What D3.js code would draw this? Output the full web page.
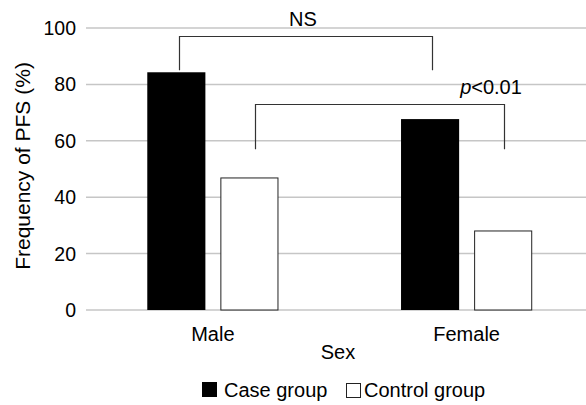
<!DOCTYPE html>
<html><head><meta charset="utf-8">
<script src="https://cdn.jsdelivr.net/npm/d3@7"></script>
<style>body{margin:0;background:#fff}svg{display:block;font-family:"Liberation Sans",Arial,sans-serif}</style>
</head><body>
<svg id="c" width="586" height="405"></svg>
<script>
const categories = ["Male", "Female"];
const groups = ["Case group", "Control group"];
const caseValues = [84.3, 67.7];
const controlValues = [47.0, 28.2];
const yTicks = [0, 20, 40, 60, 80, 100];
const brackets = [
  {label: "NS", from: [0, 0], to: [1, 0], top: 97, drop: [85, 85]},
  {label: "p<0.01", from: [0, 1], to: [1, 1], top: 73, drop: [57, 57]}
];

(function () {
const svg = d3.select("#c");
const pl = 86, pr = 593.5, pt0 = 28, pb = 310;
const y = d3.scaleLinear().domain([0, 100]).range([pb, pt0]);
const x0 = d3.scaleBand().domain(categories).range([pl, pr]).paddingInner(0.483).paddingOuter(0.2415);
const x1 = d3.scaleBand().domain(groups).range([0, x0.bandwidth()]).paddingInner(0.205);
const fs = 20;

svg.append("g").selectAll("line").data(yTicks).join("line")
  .attr("x1", pl).attr("x2", 586).attr("y1", d => y(d)).attr("y2", d => y(d))
  .attr("stroke", "#c6c6c6").attr("stroke-width", 1.5);

svg.append("g").selectAll("text").data(yTicks).join("text")
  .attr("x", 76).attr("y", d => y(d)).attr("dy", "0.36em").attr("text-anchor", "end")
  .attr("font-size", 19.5).attr("fill", "#000").text(d => d);

const rows = categories.map((c, i) => ({c, vals: [caseValues[i], controlValues[i]]}));
const g = svg.append("g").selectAll("g").data(rows).join("g")
  .attr("transform", d => `translate(${x0(d.c)},0)`);
g.selectAll("rect").data(d => d.vals.map((v, j) => ({g: groups[j], v}))).join("rect")
  .attr("x", d => x1(d.g) + (d.g === groups[1] ? 0.5 : 0))
  .attr("width", d => x1.bandwidth() - (d.g === groups[1] ? 1 : 0))
  .attr("y", d => y(d.v) + (d.g === groups[1] ? 0.5 : 0))
  .attr("height", d => y(0) - y(d.v) - (d.g === groups[1] ? 0.5 : 0))
  .attr("fill", d => d.g === groups[0] ? "#000" : "#fff")
  .attr("stroke", d => d.g === groups[0] ? "none" : "#222")
  .attr("stroke-width", 1);

svg.append("g").selectAll("text").data(categories).join("text")
  .attr("x", d => x0(d) + x0.bandwidth() / 2).attr("y", 341)
  .attr("text-anchor", "middle").attr("font-size", fs).text(d => d);

svg.append("text").attr("x", 338).attr("y", 359).attr("text-anchor", "middle")
  .attr("font-size", fs).text("Sex");
svg.append("text").attr("transform", `translate(30,${(pt0 + pb) / 2 - 3}) rotate(-90)`)
  .attr("text-anchor", "middle").attr("font-size", 21).text("Frequency of PFS (%)");

const bx = (ci, gi) => x0(categories[ci]) + x1(groups[gi]) + x1.bandwidth() / 2;
const offs = [[3, 2], [6, 0.5]];
brackets.forEach((b, i) => {
  const xa = Math.round(bx(b.from[0], b.from[1]) + offs[i][0]) + 0.5;
  const xb = Math.round(bx(b.to[0], b.to[1]) + offs[i][1]) + 0.5;
  const yt = Math.round(y(b.top)) + 0.5;
  svg.append("path").attr("d", d3.line()([[xa, y(b.drop[0])], [xa, yt], [xb, yt], [xb, y(b.drop[1])]]))
    .attr("fill", "none").attr("stroke", "#333").attr("stroke-width", 1.2);
});
svg.append("text").attr("x", 303).attr("y", 26).attr("text-anchor", "middle").attr("font-size", fs).text(brackets[0].label);
const pt = svg.append("text").attr("x", 491).attr("y", 94).attr("text-anchor", "middle").attr("font-size", fs);
pt.append("tspan").attr("font-style", "italic").text(brackets[1].label.slice(0, 1));
pt.append("tspan").text(brackets[1].label.slice(1));

const leg = svg.append("g");
leg.append("rect").attr("x", 202).attr("y", 382).attr("width", 15).attr("height", 15).attr("fill", "#000");
leg.append("text").attr("x", 224).attr("y", 397).attr("font-size", fs).text(groups[0]);
leg.append("rect").attr("x", 346.5).attr("y", 383.5).attr("width", 14).attr("height", 14).attr("fill", "#fff").attr("stroke", "#222");
leg.append("text").attr("x", 364).attr("y", 397).attr("font-size", fs).text(groups[1]);
})();
</script>
</body></html>
